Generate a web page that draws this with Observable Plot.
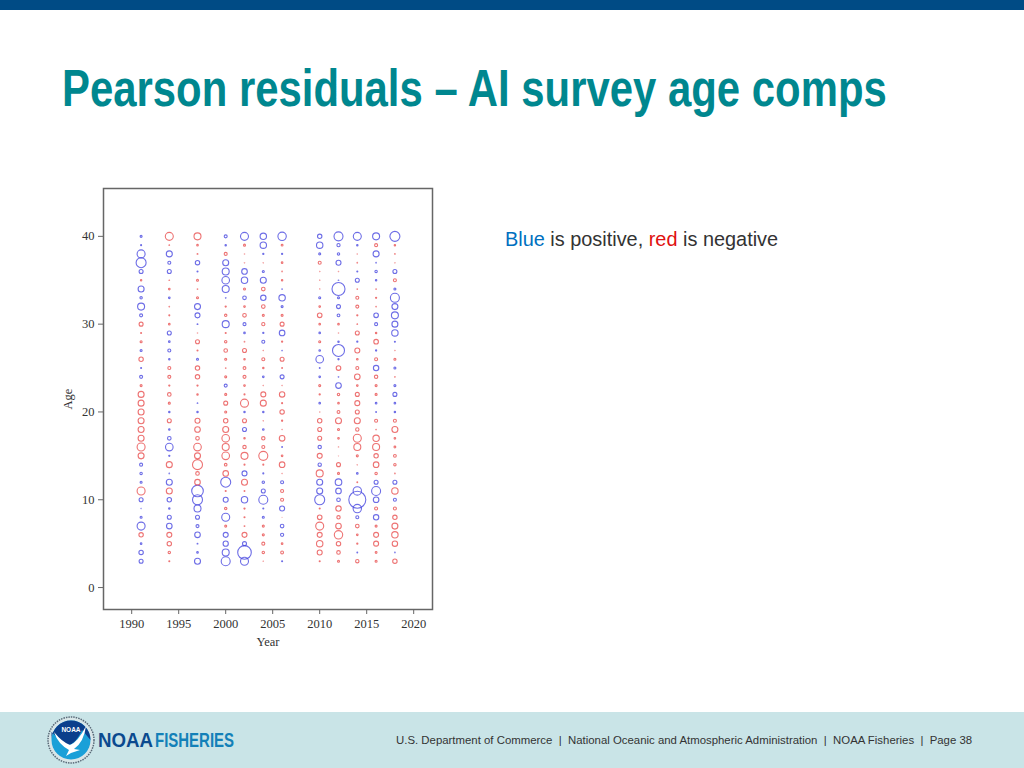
<!DOCTYPE html>
<html>
<head>
<meta charset="utf-8">
<script src="https://cdn.jsdelivr.net/npm/d3@7"></script>
<script src="https://cdn.jsdelivr.net/npm/@observablehq/plot@0.6"></script>
<style>
html,body{margin:0;padding:0;background:#fff;}
#slide{position:relative;width:1024px;height:768px;overflow:hidden;background:#fff;font-family:"Liberation Sans",Arial,sans-serif;}
#band{position:absolute;left:0;top:0;width:1024px;height:10px;background:#004b85;}
#titleSvg{position:absolute;left:0;top:50px;}
#note{position:absolute;left:505px;top:228px;font-size:19.9px;line-height:22px;color:#333;white-space:nowrap;}
#note .b{color:#0070c0;}
#note .r{color:#e01010;}
#chart{position:absolute;left:0;top:170px;}
#foot{position:absolute;left:0;top:712px;width:1024px;height:56px;background:#c9e4e7;}
#footText{position:absolute;left:396px;top:21px;font-size:11.4px;line-height:14px;color:#333;white-space:pre;}
#logo{position:absolute;left:0;top:0;}
</style>
</head>
<body>
<div id="slide">
  <div id="band"></div>
  <svg id="titleSvg" width="1024" height="80"><text id="titleText" font-family="Liberation Sans" font-weight="bold" font-size="52" fill="#00878f">Pearson residuals – AI survey age comps</text></svg>
  <div id="note"><span class="b">Blue</span> is positive, <span class="r">red</span> is negative</div>
  <div id="chart"></div>
  <div id="foot">
    <svg id="logo" width="260" height="56" viewBox="0 0 260 56">
      <circle cx="71" cy="28" r="23" fill="#d8e6e8" stroke="#5a6a78" stroke-width="1.5" stroke-dasharray="1.5 1"/>
      <circle cx="71" cy="28" r="19.5" fill="#1aa0d8"/>
      <path d="M51.5 28 A19.5 19.5 0 0 1 90.5 28 L82 18 Q76 32 68 33 Q60 28 51.5 20 Z" fill="#0b3f8c"/>
      <path d="M54 20 Q62 30 70 33 Q78 30 86 14 Q84 30 74 37 L80 38 Q72 40 66 44 L69 38 Q58 32 54 20 Z" fill="#fff"/>
      <text x="71" y="20" text-anchor="middle" font-family="Liberation Sans" font-weight="bold" font-size="6.5" fill="#fff">NOAA</text>
      <text x="98" y="35" textLength="55" lengthAdjust="spacingAndGlyphs" font-family="Liberation Sans" font-weight="bold" font-size="19.5" fill="#0b4a8f">NOAA</text>
      <text x="155" y="35" textLength="79" lengthAdjust="spacingAndGlyphs" font-family="Liberation Sans" font-weight="bold" font-size="19.5" fill="#1380b8">FISHERIES</text>
    </svg>
    <div id="footText">U.S. Department of Commerce  |  National Oceanic and Atmospheric Administration  |  NOAA Fisheries  |  Page 38</div>
  </div>
</div>
<script>
const years = [1991, 1994, 1997, 2000, 2002, 2004, 2006, 2010, 2012, 2014, 2016, 2018];
const ages = [40,39,38,37,36,35,34,33,32,31,30,29,28,27,26,25,24,23,22,21,20,19,18,17,16,15,14,13,12,11,10,9,8,7,6,5,4,3];

// Residual per age (40 down to 3), positive = blue, negative = red; bubble size is |value|
const res1991 = [1,.5,4,5,2,-.7,3,1.2,3.5,1.5,-2,-.5,-1,1,-2.2,.5,1.5,-1,-3, -3,-3,-3,-3,-3,-4,-3,1.5,1.2,1,-4,2,.2,1,4,-2.2,.8,2.2,2];
const res1994 = [-4,-.3,3,1.5,2,-.3,-.8,.8,-.3,-.5,-.8,2,.8,1.5,.7,-1.5,-1.5,-.6,-1.8, -1,.7,-2,.7,1.8,3.8,.6,-3,.3,3,-3,2.2,.7,2,2.8,-2.5,-2.2,-1.2,-.5];
const res1997 = [-3.5,-.8,-.4,2.2,.5,-1,-.3,-1,3,2.5,.4,-.2,-2,-.5,1,-2.2,-2.2,-.6,-.7, .3,.7,-2.5,-2.8,-1.8,-3.8,-3,-5,-1.8,-2.8,5.8,5,3.5,2,1.5,2.8,.4,.8,3];
const res2000 = [1.5,.7,-1.5,3,3.5,3.8,3.5,.3,-.6,-1.2,3.5,-.5,-1.2,-1.8,-1,-.3,-1,1.5,-1, -2,-1,-2.2,-3,-3.8,-3.5,-3.8,-1.3,-2.8,5,-.5,2.5,-1.2,4,-1,2.5,2.6,3.5,4.5];
const res2002 = [4,-1,-.2,-.2,2.8,3.2,-1,1.8,-.8,-1.8,1.5,.8,-.3,-2,-.7,-1.4,-1.5,-.8,-.5, -4,.7,-2,2,-.7,-1.7,-3.5,-.5,2.5,-3,-.4,3.2,-.6,-.5,-.4,-2.5,2,6.8,4];
const res2004 = [3.2,3.2,.6,-.2,1,3,-1.8,2.7,-1.8,-1,-1.6,.6,1.5,-.2,-1.5,-.7,.8,-.2,-2.5, -3,.7,-.2,.8,-1.7,-1.5,-4.5,-.5,.5,1.2,2,4.5,.5,1,-1,-1,-1.5,-1.2,-.2];
const res2006 = [4.2,-.9,.6,-.8,-.3,-.7,.3,3.2,1,-1,-2,2.8,-.6,.3,-2,-.4,2,-.2,-2.7, -.5,-2.2,-.6,-.2,-2.8,.4,-.8,-2.8,-.2,1.5,-1.5,-1.5,2.5,-.1,1.8,1.6,-.8,-1.4,.5];
const res2010 = [2.2,3.2,1,-1.5,-.2,-.2,-.2,1,-.8,-2.3,-.8,.8,-1,.8,3.8,.4,.8,-1,-.6, .8,-.2,-2.2,-2,-2,1.7,-2.5,1.7,-3.5,3,3,5,-.5,-2.3,-4,-2.5,-3.2,-2.5,-.5];
const res2012 = [4.5,1.6,1.2,2.5,-.2,.3,6.5,1,2,1.4,-.8,-.2,.7,6,.6,-2.3,.3,2.8,-1.2, -.8,-1.4,-3,-1,-.8,-.2,-.1,-2,-1,3.3,2.8,1.8,-2.7,-1.7,-2.8,-4.2,-2.2,-1.8,-1];
const res2014 = [4,.7,-.2,-.3,.5,2,-.3,-1.5,-1.5,-.6,-.3,-2,.6,-2.5,-.8,-1.5,-2.8,-.8,-2, -2.5,-2,-3,-1.7,-4,-3.5,-1,-.2,.8,-.4,4.2,8.5,4.2,1.5,-1.8,-.8,-.6,.4,-1.7];
const res2016 = [3.5,-1.5,3,.3,1.2,.7,-.3,-.6,-.3,2.3,1.5,-.7,-2.3,.6,-1.5,2.7,-1.7,-1,-1, .8,.4,-1.5,-.3,-3.2,-3.5,-2.2,-2.8,-1.2,2,4.5,2.8,-1.5,2.7,-1,-2.5,-2.5,-.9,-1];
const res2018 = [5,-.7,-.3,-.2,2,-1.5,1,4.5,3,3.5,3,3.2,.5,-.2,-1,1,-.3,1,2, .8,.7,-1.5,-3,-.8,-.9,-1.4,-1.2,-.3,2,-3.2,1.5,-1.5,-2.2,-3,-3.2,-2.7,.3,-2.2];

const series = [res1991,res1994,res1997,res2000,res2002,res2004,res2006,res2010,res2012,res2014,res2016,res2018];
const rows = series.flatMap((vals, i) => vals.map((v, j) => ({year: years[i], age: ages[j], value: v})));

const ink = "#666";
const plot = Plot.plot({
  width: 480,
  height: 500,
  marginLeft: 103,
  marginRight: 48,
  marginTop: 18,
  marginBottom: 61,
  style: {fontFamily: '"Liberation Serif", serif', fontSize: "12.5px", background: "transparent", color: "#333"},
  x: {domain: [1987, 2022]},
  y: {domain: [-2.5, 45.45]},
  r: {type: "linear", domain: [0, 10], range: [0, 10]},
  marks: [
    Plot.frame({stroke: ink, strokeWidth: 1.5}),
    Plot.axisX({ticks: [1990,1995,2000,2005,2010,2015,2020], tickFormat: d => String(d), tickSize: 5, tickPadding: 5, label: "Year", labelAnchor: "center", labelArrow: "none", labelOffset: 36, stroke: ink, color: ink, fill: "#333", textStroke: "none"}),
    Plot.axisY({ticks: [0,10,20,30,40], tickSize: 5, tickPadding: 4, label: "Age", labelAnchor: "center", labelArrow: "none", labelOffset: 40, color: ink, fill: "#333"}),
    Plot.dot(rows, {
      x: "year",
      y: "age",
      r: d => Math.abs(d.value),
      stroke: d => d.value > 0 ? "#4848e0" : "#e85050",
      strokeOpacity: 0.8,
      strokeWidth: 1.1,
      fill: "none"
    })
  ]
});
document.getElementById("chart").appendChild(plot);

// Narrow the title to the reference's condensed width
const titleText = document.getElementById("titleText");
titleText.setAttribute("transform", `translate(62,56) scale(${825 / titleText.getComputedTextLength()},1)`);
</script>
</body>
</html>
